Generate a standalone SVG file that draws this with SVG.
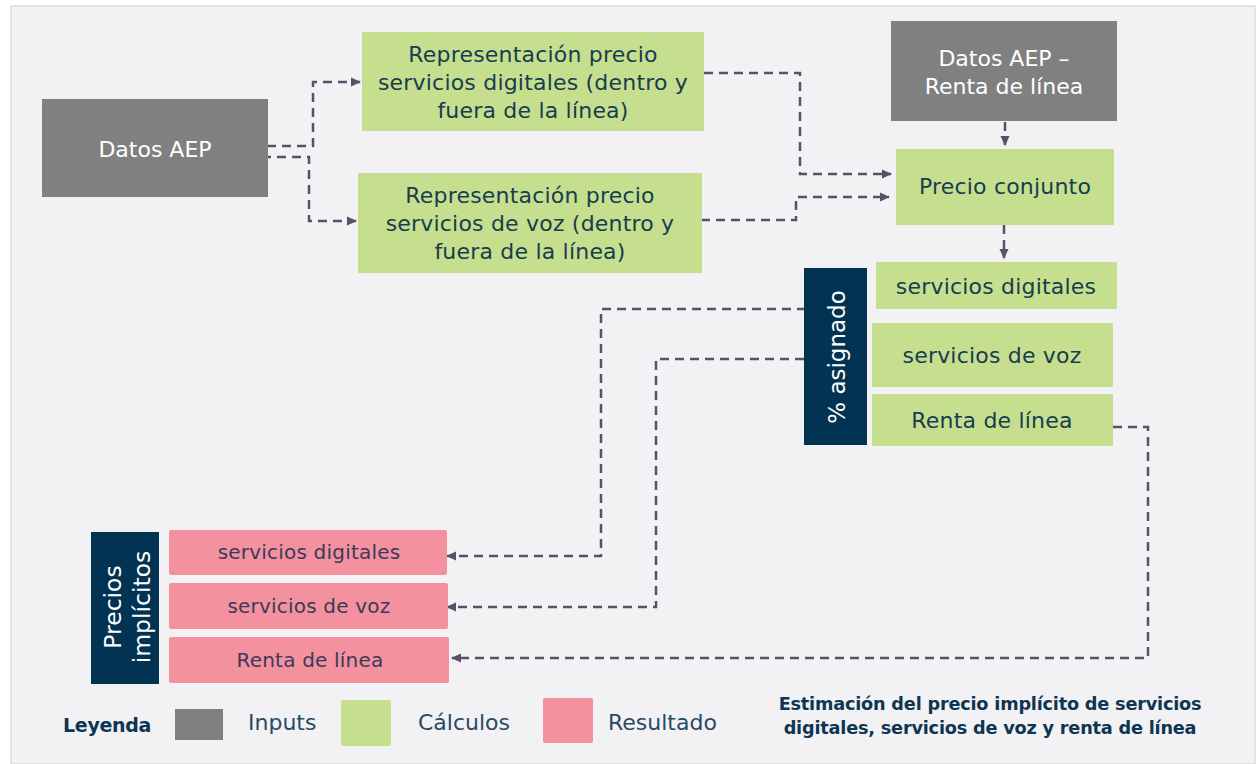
<svg xmlns="http://www.w3.org/2000/svg" width="1257" height="764" viewBox="0 0 1257 764">
<defs>
<marker id="ah" markerWidth="10" markerHeight="10" refX="9" refY="5" orient="auto" markerUnits="userSpaceOnUse">
<path d="M0,0.5 L10,5 L0,9.5 Z" fill="#5c4f69"/>
</marker>
<style>
text{font-family:"DejaVu Sans","Liberation Sans",Arial,sans-serif;text-anchor:middle}
.in{fill:#808080}
.calc{fill:#c5df8e}
.res{fill:#f4919f}
.nav{fill:#033352}
.wt{fill:#ffffff;font-size:22px}
.gt{fill:#183c50;font-size:22px;letter-spacing:0.2px}
.pt{fill:#3a3a58;font-size:20px;letter-spacing:0.2px}
.lg{fill:#2a4a62;font-size:22px;text-anchor:start}
.ttl{fill:#0e3551;font-size:17.7px;font-weight:bold;letter-spacing:-0.2px}
.c{fill:none;stroke:#5c4f69;stroke-width:2.5;stroke-dasharray:9 6}
.ca{marker-end:url(#ah)}
</style>
</defs>
<rect x="0" y="0" width="1257" height="764" fill="#ffffff"/>
<rect x="11" y="6" width="1244" height="758" fill="#f2f2f4" stroke="#dcdcdc" stroke-width="1.5"/>

<g id="connectors">
<path class="c ca" d="M267,146 H313 V82 H360"/>
<path class="c ca" d="M262,157 H309 V221 H356"/>
<path class="c ca" d="M704,73 H800 V174 H891"/>
<path class="c ca" d="M701,220 H796 V197 H889"/>
<path class="c ca" d="M1005,122 V145"/>
<path class="c ca" d="M1004,225 V258"/>
<path class="c ca" d="M866,309 H601 V556 H447"/>
<path class="c ca" d="M804,359 H656 V607 H447"/>
<path class="c ca" d="M1113,427 H1148 V658 H452"/>
</g>

<g id="datos-aep">
<rect class="in" x="42" y="99" width="226" height="98"/>
<text class="wt" x="155" y="157">Datos AEP</text>
</g>

<g id="rep-digitales">
<rect class="calc" x="362" y="32" width="342" height="99"/>
<text class="gt" x="533" y="62">Representación precio</text>
<text class="gt" x="533" y="90">servicios digitales (dentro y</text>
<text class="gt" x="533" y="118">fuera de la línea)</text>
</g>

<g id="rep-voz">
<rect class="calc" x="358" y="173" width="344" height="100"/>
<text class="gt" x="530" y="203">Representación precio</text>
<text class="gt" x="530" y="231">servicios de voz (dentro y</text>
<text class="gt" x="530" y="259">fuera de la línea)</text>
</g>

<g id="datos-aep-renta">
<rect class="in" x="891" y="21" width="226" height="100"/>
<text class="wt" x="1004" y="66">Datos AEP –</text>
<text class="wt" x="1004" y="94">Renta de línea</text>
</g>

<g id="precio-conjunto">
<rect class="calc" x="896" y="149" width="218" height="76"/>
<text class="gt" x="1005" y="194">Precio conjunto</text>
</g>

<g id="asignado">
<rect class="nav" x="804" y="268" width="63" height="177"/>
<text class="wt" style="font-size:23px" transform="translate(845,357) rotate(-90)">% asignado</text>
</g>

<g id="calc-digitales">
<rect class="calc" x="876" y="262" width="241" height="47"/>
<text class="gt" x="996" y="294">servicios digitales</text>
</g>

<g id="calc-voz">
<rect class="calc" x="872" y="323" width="241" height="64"/>
<text class="gt" x="992" y="363">servicios de voz</text>
</g>

<g id="calc-renta">
<rect class="calc" x="872" y="394" width="241" height="52"/>
<text class="gt" x="992" y="428">Renta de línea</text>
</g>

<g id="precios-implicitos">
<rect class="nav" x="91" y="532" width="68" height="152"/>
<text class="wt" style="font-size:23.5px" transform="translate(121,607) rotate(-90)">Precios</text>
<text class="wt" style="font-size:23.5px" transform="translate(150,607) rotate(-90)">implícitos</text>
</g>

<g id="res-digitales">
<rect class="res" x="169" y="530" width="278" height="45" rx="2"/>
<text class="pt" x="309" y="559">servicios digitales</text>
</g>

<g id="res-voz">
<rect class="res" x="169" y="583" width="279" height="46" rx="2"/>
<text class="pt" x="309" y="613">servicios de voz</text>
</g>

<g id="res-renta">
<rect class="res" x="169" y="637" width="280" height="46" rx="2"/>
<text class="pt" x="310" y="667">Renta de línea</text>
</g>

<g id="legend">
<text x="63" y="732" style="fill:#0e3551;font-size:19px;font-weight:bold;text-anchor:start;letter-spacing:-0.3px">Leyenda</text>
<rect class="in" x="175" y="709" width="48" height="31"/>
<text class="lg" x="248" y="730">Inputs</text>
<rect class="calc" x="341" y="700" width="50" height="46" rx="2"/>
<text class="lg" x="418" y="730">Cálculos</text>
<rect class="res" x="543" y="698" width="50" height="45" rx="2"/>
<text class="lg" x="608" y="730">Resultado</text>
</g>

<g id="title">
<text class="ttl" x="990" y="710">Estimación del precio implícito de servicios</text>
<text class="ttl" x="990" y="734">digitales, servicios de voz y renta de línea</text>
</g>
</svg>
